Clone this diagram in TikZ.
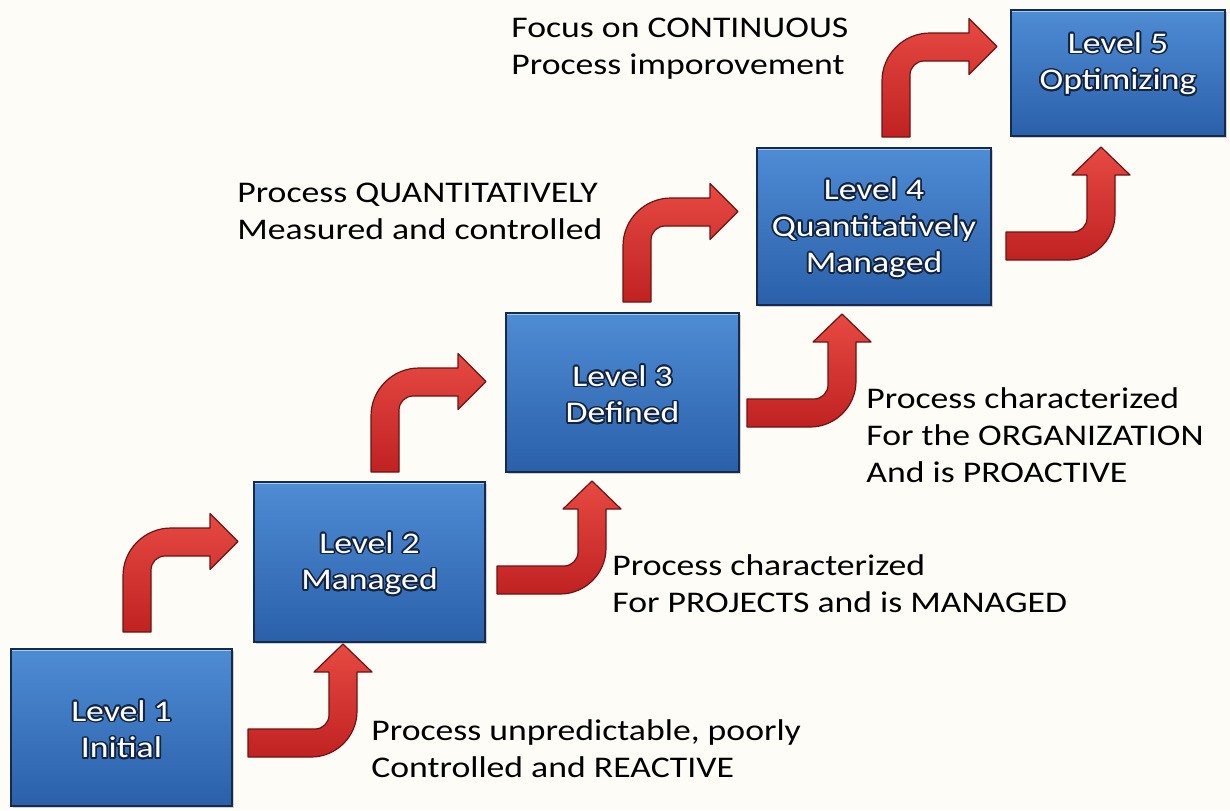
\documentclass[tikz,border=0pt]{standalone}
\usepackage{fontspec}
\setmainfont{Carlito}[FakeStretch=1.19]
\usepackage[copies]{contour}
\contourlength{0.85pt}
\usetikzlibrary{shadows}

\definecolor{bg}{RGB}{253,252,247}
\definecolor{boxtop}{RGB}{78,140,212}
\definecolor{boxbot}{RGB}{42,96,170}
\definecolor{boxline}{RGB}{22,42,78}
\definecolor{boxhi}{RGB}{160,205,240}
\definecolor{arrtop}{RGB}{230,74,66}
\definecolor{arrbot}{RGB}{192,34,34}
\definecolor{arrline}{RGB}{112,18,18}
\definecolor{shadowc}{RGB}{18,36,66}

\newcommand{\lift}{\rule{0pt}{13pt}}
\newcommand{\lvl}[1]{\contour{shadowc}{#1}}

\begin{document}
\begin{tikzpicture}[x=0.5pt,y=-0.5pt,
  every node/.style={font=\fontsize{15}{18.3}\selectfont},
  levelbox/.style={draw=boxline, line width=1pt, top color=boxtop, bottom color=boxbot,
    text=white, align=center, inner sep=0pt,
    drop shadow={shadow xshift=0.8pt, shadow yshift=-0.8pt, opacity=0.35},
    path picture={\draw[boxhi, line width=1.2pt]
      ([xshift=0.6pt,yshift=-0.6pt]path picture bounding box.north west) --
      ([xshift=-0.6pt,yshift=-0.6pt]path picture bounding box.north east);}},
  boxtext/.style={text=white, align=center, inner sep=0pt},
  desc/.style={anchor=base west, align=left, inner sep=0pt, text=black},
  arrowshape/.style={draw=arrline, line width=0.6pt, top color=arrtop, bottom color=arrbot, line join=round},
  uparrow/.pic={
    \path[arrowshape] (0,0) -- (0,-28) -- (67,-28)
      .. controls (74.7,-28) and (81,-34.3) .. (81,-42)
      -- (81,-85) -- (66,-85) -- (95,-113) -- (124,-85) -- (109,-85) -- (109,-46)
      .. controls (109,-20.6) and (88.4,0) .. (63,0) -- cycle;},
  rightarrow/.pic={
    \path[arrowshape] (0,0) -- (0,-56)
      .. controls (0,-82.5) and (21.5,-104) .. (48,-104)
      -- (87,-104) -- (87,-118.5) -- (115,-90.5) -- (87,-62.5) -- (87,-76) -- (42,-76)
      .. controls (34.3,-76) and (28,-69.7) .. (28,-62)
      -- (28,0) -- cycle;}
]
\fill[bg] (0,0) rectangle (1230,810);
\useasboundingbox (0,0) rectangle (1230,810);

% level boxes
\node[levelbox, minimum width=110.5pt, minimum height=78.5pt] (l1) at (121.5,727.5)
  {\lift\lvl{Level 1}\\\lvl{Initial}};
\node[levelbox, minimum width=115.5pt, minimum height=80pt] (l2) at (369.5,562)
  {\lift\lvl{Level 2}\\\lvl{Managed}};
\node[levelbox, minimum width=116.5pt, minimum height=79.5pt] (l3) at (622.5,392.5)
  {\lift\lvl{Level 3}\\\lvl{Defined}};
\node[levelbox, minimum width=117pt, minimum height=78.5pt] (l4) at (874,226.5)
  {\lift\lvl{Level 4}\\\lvl{Quantitatively}\\\lvl{Managed}};
\node[levelbox, minimum width=107pt, minimum height=63pt] (l5) at (1118,73) {};
\node[boxtext] (l5t) at (1118,62)
  {\lift\lvl{Level 5}\\\lvl{Optimizing}};

% arrows
\pic at (123,632) {rightarrow};
\pic at (371,472) {rightarrow};
\pic at (623,302) {rightarrow};
\pic at (882,137) {rightarrow};
\pic at (248,757) {uparrow};
\pic at (497,594) {uparrow};
\pic at (747,427) {uparrow};
\pic at (1006,260) {uparrow};

% descriptions (base = baseline of the last line)
\node[desc] (d1) at (371,777) {Process unpredictable, poorly\\Controlled and REACTIVE};
\node[desc] (d2) at (612,612) {Process characterized\\For PROJECTS and is MANAGED};
\node[desc] (d3) at (866,482) {Process characterized\\For the ORGANIZATION\\And is PROACTIVE};
\node[desc] (d4) at (237,239) {Process QUANTITATIVELY\\Measured and controlled};
\node[desc] (d5) at (511,74) {Focus on CONTINUOUS\\Process imporovement};
\end{tikzpicture}
\end{document}
